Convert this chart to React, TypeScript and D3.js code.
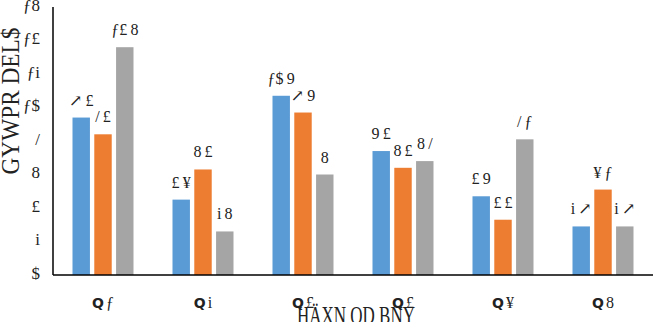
import React from "react";
import * as d3 from "d3";

const categories = ["Q1", "Q2", "Q3", "Q4", "Q5", "Q6"];
const seriesNames = ["Series 1", "Series 2", "Series 3"];
const series1 = [9.4, 4.5, 10.7, 7.4, 4.7, 2.9];
const series2 = [8.4, 6.3, 9.7, 6.4, 3.3, 5.1];
const series3 = [13.6, 2.6, 6, 6.8, 8.1, 2.9];
const yTicks = [0, 2, 4, 6, 8, 10, 12, 14, 16];
const colors = ["#5B9BD5", "#ED7D31", "#A5A5A5"];
const yTitle = "GYWPR DEL$";
const xTitle = "HÄXN OD BNY";

// glyphs as they appear in the reference for each digit
const glyph: Record<string, string> = {
  "0": "$", "1": "ƒ", "2": "i", "3": "£", "4": "£", "5": "¥",
  "6": "8", "7": "9", "8": "/", "9": "↗", ".": "\u2009", Q: "Q",
};
const enc = (s: string) => s.split("").map((c) => glyph[c] ?? c).join("");

const W = 655, H = 322;
const left = 53, right = 653, top = 7, bottom = 275;

export default function App() {
  const data = [series1, series2, series3];
  const x0 = d3.scaleBand<string>().domain(categories).range([left, right]).paddingInner(0.39).paddingOuter(0.195);
  const x1 = d3.scaleBand<number>().domain([0, 1, 2]).range([0, x0.bandwidth()]).paddingInner(0.2).paddingOuter(0);
  const y = d3.scaleLinear().domain([0, 16]).range([bottom, top]);
  const serif = "'Liberation Serif', 'DejaVu Serif', serif";
  return (
    <svg width={W} height={H} style={{ position: "absolute", left: 0, top: 0, background: "#fff" }} fontFamily={serif}>
      {data.map((vals, si) => (
        <g key={seriesNames[si]}>
          {vals.map((v, ci) => {
            const bx = (x0(categories[ci]) ?? 0) + (x1(si) ?? 0);
            const by = y(v);
            return (
              <g key={ci}>
                <rect x={bx} y={by} width={x1.bandwidth()} height={bottom - by} fill={colors[si]} />
                <text x={bx + x1.bandwidth() / 2} y={by - 12} textAnchor="middle" fontSize={16} fill="#222">
                  {enc(String(v))}
                </text>
              </g>
            );
          })}
        </g>
      ))}
      <line x1={left} x2={left} y1={top} y2={bottom} stroke="#000" strokeWidth={1.5} />
      <line x1={left} x2={right} y1={bottom} y2={bottom} stroke="#000" strokeWidth={1.5} />
      {yTicks.map((t) => (
        <text key={t} x={40} y={y(t)} textAnchor="end" dominantBaseline="middle" fontSize={17} fill="#222">
          {enc(String(t))}
        </text>
      ))}
      {categories.map((c) => (
        <text key={c} x={(x0(c) ?? 0) + x0.bandwidth() / 2} y={308} textAnchor="middle" fontSize={16} fill="#222">
          <tspan fontWeight="bold" fontFamily="'DejaVu Sans', sans-serif" fontSize={14}>{c[0]}</tspan>
          <tspan dx={2}>{enc(c.slice(1))}</tspan>
        </text>
      ))}
      <text x={356} y={324} textAnchor="middle" fontSize={26} fill="#222" textLength={118} lengthAdjust="spacingAndGlyphs">
        {xTitle}
      </text>
      <text transform={`translate(19,101) rotate(-90)`} textAnchor="middle" fontSize={26} fill="#222" textLength={147} lengthAdjust="spacingAndGlyphs">
        {yTitle}
      </text>
    </svg>
  );
}
